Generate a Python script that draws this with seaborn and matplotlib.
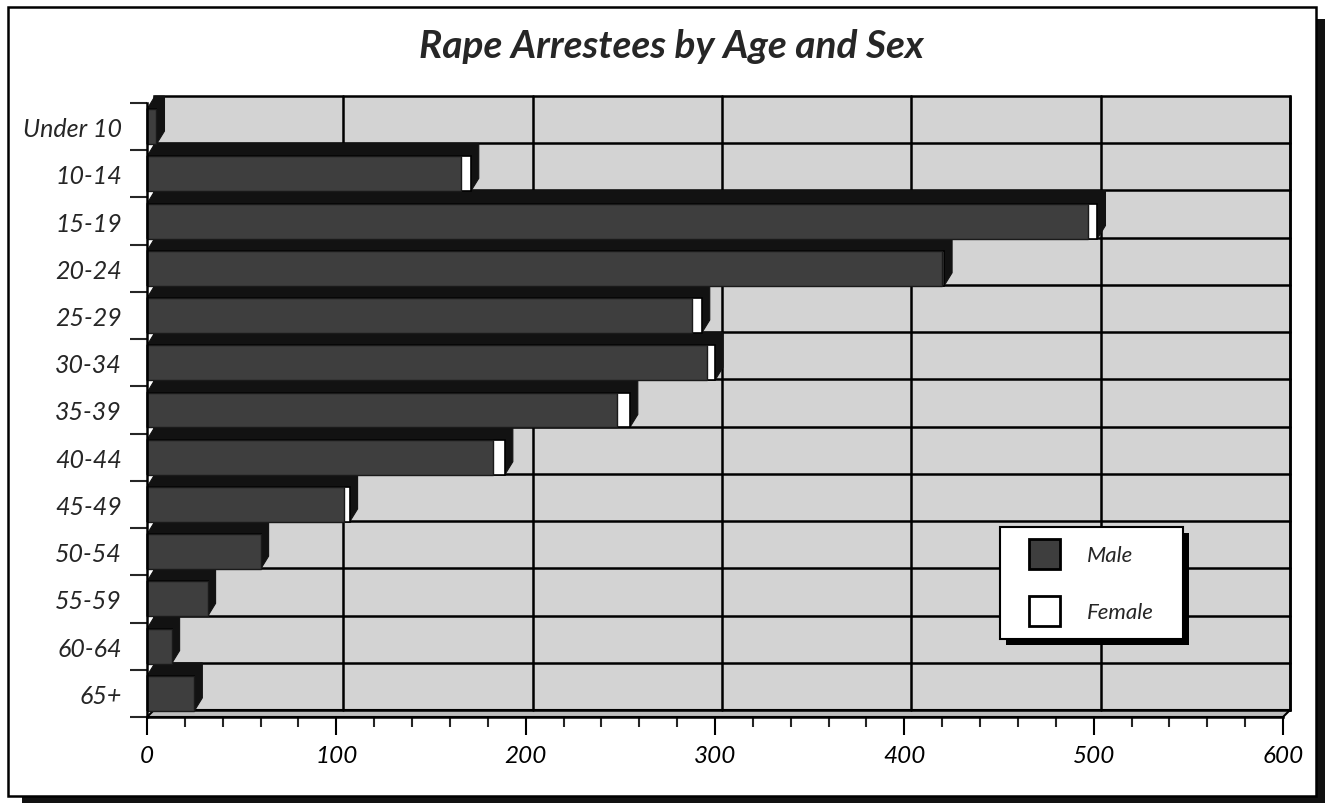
import numpy as np
import pandas as pd
import matplotlib
matplotlib.use("Agg")
import matplotlib.pyplot as plt
import seaborn as sns
from matplotlib.patches import Rectangle, Polygon, Patch
from matplotlib.transforms import ScaledTranslation
from matplotlib.ticker import MultipleLocator, FixedLocator

# data
ages = ["Under 10", "10-14", "15-19", "20-24", "25-29", "30-34", "35-39",
        "40-44", "45-49", "50-54", "55-59", "60-64", "65+"]
male = [5, 166, 497, 420, 288, 296, 248, 183, 104, 60, 32, 13, 25]
female = [0, 5, 5, 1, 5, 4, 7, 6, 3, 0, 0, 0, 0]
xticks = [0, 100, 200, 300, 400, 500, 600]

df = pd.DataFrame({"age": ages, "male": male, "female": female})
df["total"] = df["male"] + df["female"]

sns.set_style("white")
plt.rcParams["font.family"] = ["Lato", "DejaVu Sans"]

W, H = 1325, 804
fig = plt.figure(figsize=(W / 100, H / 100), dpi=100)

# outer frame with drop shadow
fig.patches.append(Rectangle((22 / W, 0), (W - 22) / W, (H - 20) / H,
                             transform=fig.transFigure, facecolor="#111111",
                             edgecolor="none", zorder=-3))
fig.patches.append(Rectangle((8 / W, 7 / H), (1316 - 8) / W, (797 - 8) / H,
                             transform=fig.transFigure, facecolor="white",
                             edgecolor="black", linewidth=1.8, zorder=-2))

ax_l, ax_r, ax_t, ax_b = 147, 1283, 104, 718
ax = fig.add_axes([ax_l / W, 1 - ax_b / H, (ax_r - ax_l) / W, (ax_b - ax_t) / H])
ax.set_facecolor("none")
ax.set_zorder(1)

# depth of the 3D box in pixels
dpx, dpy = 7, 7
dxa = dpx / (ax_r - ax_l)
dya = dpy / (ax_b - ax_t)

# back wall and floor
ax.add_patch(Rectangle((dxa, dya), 1, 1, transform=ax.transAxes,
                       facecolor="#d3d3d3", edgecolor="black", linewidth=1.8,
                       zorder=0, clip_on=False))
ax.add_patch(Polygon([(0, 0), (1, 0), (1 + dxa, dya), (dxa, dya)],
                     closed=True, transform=ax.transAxes, facecolor="#bdbdbd",
                     edgecolor="black", linewidth=1.5, zorder=0.5, clip_on=False))

bw = 0.74
sns.barplot(data=df, x="total", y="age", orient="h", color="white",
            saturation=1, width=bw, edgecolor="black", linewidth=1.2,
            errorbar=None, ax=ax, zorder=4)
tot_patches = list(ax.patches[2:])
sns.barplot(data=df, x="male", y="age", orient="h", color="#3e3e3e",
            saturation=1, width=bw, edgecolor="#1a1a1a", linewidth=1.0,
            errorbar=None, ax=ax, zorder=5)

ax.set_xlim(0, 600)
ax.set_ylim(len(ages) - 0.5, -0.5)

# extrusions behind each bar (top and side faces)
ddx = 8 * 600 / (ax_r - ax_l)
ddy = 13 * len(ages) / (ax_b - ax_t)
for p in tot_patches:
    x0, w = p.get_x(), p.get_width()
    y0, h = p.get_y(), p.get_height()
    yt, yb = min(y0, y0 + h), max(y0, y0 + h)
    x1 = x0 + w
    verts = [(x0, yt), (x0 + ddx, yt - ddy), (x1 + ddx, yt - ddy),
             (x1 + ddx, yb - ddy), (x1, yb), (x0, yb)]
    ax.add_patch(Polygon(verts, closed=True, facecolor="#121212",
                         edgecolor="#121212", linewidth=0.8, zorder=3,
                         clip_on=False))

# grid on the back wall, shifted by the box depth
shift = ScaledTranslation(dpx / 100, dpy / 100, fig.dpi_scale_trans)
bounds = np.arange(-0.5, len(ages), 1.0)
for xv in xticks[1:]:
    ln = ax.axvline(xv, color="black", linewidth=1.8, zorder=1, clip_on=False)
    ln.set_transform(ax.get_xaxis_transform() + shift)
for yv in bounds[1:]:
    ln = ax.axhline(yv, color="black", linewidth=1.8, zorder=1, clip_on=False)
    ln.set_transform(ax.get_yaxis_transform() + shift)

ax.set_xticks(xticks)
ax.xaxis.set_minor_locator(MultipleLocator(20))
ax.yaxis.set_minor_locator(FixedLocator(bounds))
ax.grid(False)

for s in ["top", "right"]:
    ax.spines[s].set_visible(False)
for s in ["left", "bottom"]:
    ax.spines[s].set_linewidth(1.8)
    ax.spines[s].set_color("black")
    ax.spines[s].set_zorder(6)

ax.tick_params(axis="x", which="major", direction="out", length=13, width=1.5,
               pad=7, labelsize=17.5, colors="black", bottom=True)
ax.tick_params(axis="x", which="minor", direction="out", length=7, width=1.5,
               bottom=True)
ax.tick_params(axis="y", which="major", length=0, pad=18, labelsize=18)
ax.tick_params(axis="y", which="minor", direction="out", length=12, width=1.5,
               left=True)
for lab in ax.get_xticklabels() + ax.get_yticklabels():
    lab.set_fontstyle("italic")
ax.set_xlabel("")
ax.set_ylabel("")

# legend box with its shadow, then the entries
fig.patches.append(Rectangle((1006 / W, 1 - 646 / H), 183 / W, 112 / H,
                             transform=fig.transFigure, facecolor="black",
                             edgecolor="none", zorder=8))
fig.patches.append(Rectangle((1000 / W, 1 - 640 / H), 183 / W, 112 / H,
                             transform=fig.transFigure, facecolor="white",
                             edgecolor="black", linewidth=1.5, zorder=9))
handles = [Patch(facecolor="#3e3e3e", edgecolor="black", linewidth=2, label="Male"),
           Patch(facecolor="white", edgecolor="black", linewidth=2, label="Female")]
leg = fig.legend(handles=handles, loc="upper left",
                 bbox_to_anchor=(1029 / W, 1 - 540 / H), borderaxespad=0,
                 prop={"size": 16, "style": "italic"}, frameon=False,
                 handlelength=1.4, handleheight=1.72, handletextpad=1.2,
                 labelspacing=1.2, borderpad=0)
leg.set_zorder(10)

fig.text(671 / W, 1 - 46 / H, "Rape Arrestees by Age and Sex", ha="center",
         va="center", fontsize=28, fontweight="bold", fontstyle="italic")

fig.savefig("out.png", dpi=100)
